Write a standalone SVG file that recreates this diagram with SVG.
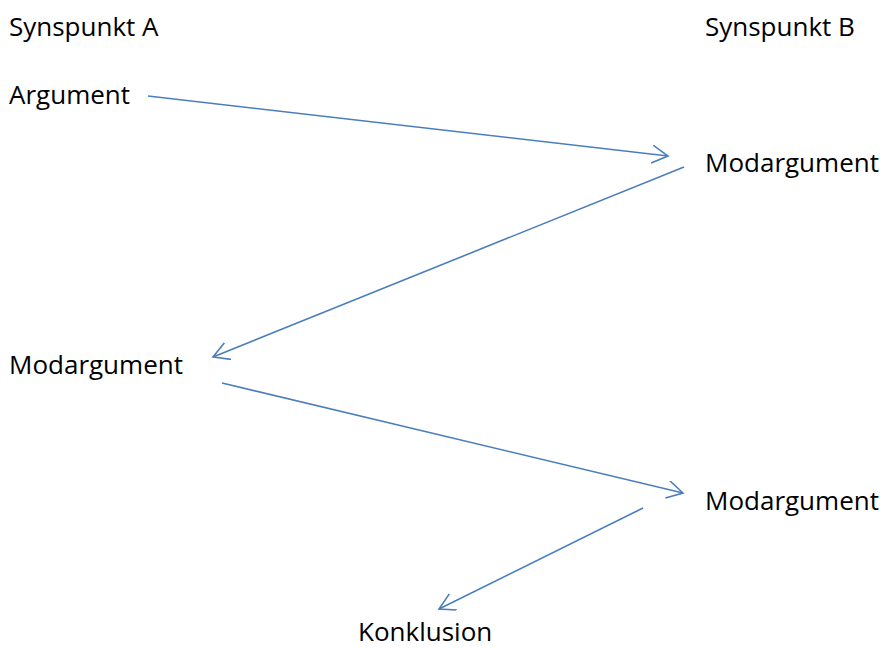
<svg xmlns="http://www.w3.org/2000/svg" width="880" height="648" viewBox="0 0 880 648">
<style>
text{font-family:"Open Sans","Liberation Sans",sans-serif;font-size:26px;fill:#000}
.c{stroke:#4a7ebb;stroke-width:1.6;fill:none}
</style>
<defs>
<marker id="a" markerUnits="userSpaceOnUse" markerWidth="24" markerHeight="24" refX="16" refY="9" orient="auto">
<path d="M0,0 L16,9 L0,18" fill="none" stroke="#4a7ebb" stroke-width="1.6"/>
</marker>
</defs>
<rect width="880" height="648" fill="#fff"/>
<g id="synA"><text x="9" y="36">Synspunkt A</text></g>
<g id="synB"><text x="705" y="36">Synspunkt B</text></g>
<g id="arg"><text x="9" y="104">Argument</text></g>
<g id="mod1"><text x="705" y="172">Modargument</text></g>
<g id="mod2"><text x="9" y="374">Modargument</text></g>
<g id="mod3"><text x="705" y="510">Modargument</text></g>
<g id="konk"><text x="358" y="641">Konklusion</text></g>
<g id="connectors">
<line class="c" x1="148" y1="96" x2="668" y2="156" marker-end="url(#a)"/>
<line class="c" x1="684" y1="167" x2="213" y2="357" marker-end="url(#a)"/>
<line class="c" x1="222" y1="383" x2="683" y2="493" marker-end="url(#a)"/>
<line class="c" x1="643" y1="508" x2="439" y2="609" marker-end="url(#a)"/>
</g>
</svg>
